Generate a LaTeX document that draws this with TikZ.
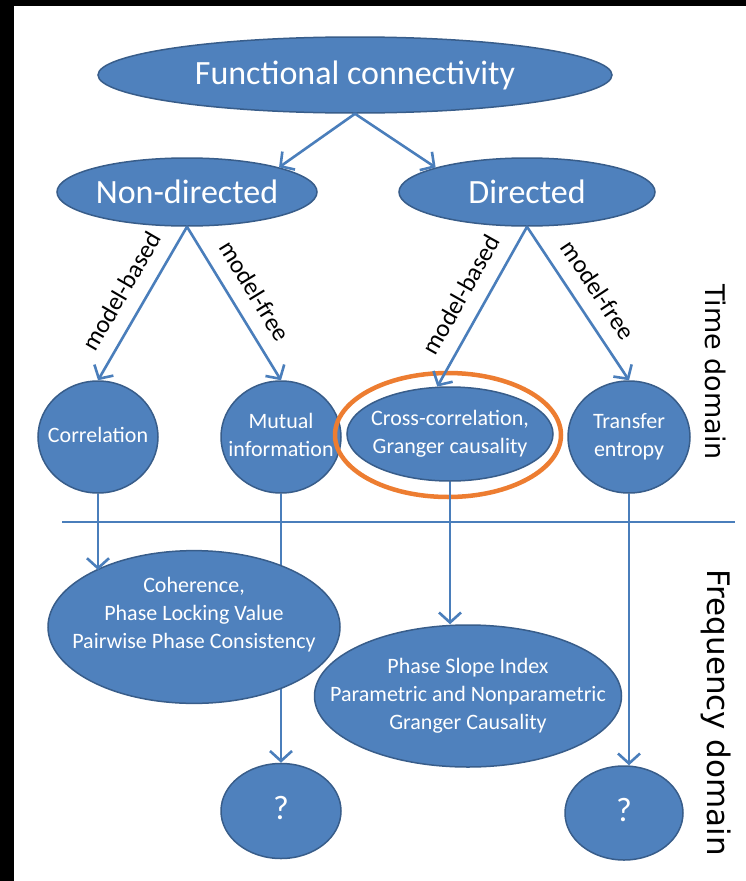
\documentclass[tikz,border=0pt]{standalone}
\usepackage{fontspec}
\setmainfont{Carlito}
\newfontfamily\domfont{DejaVu Sans}
\usetikzlibrary{arrows.meta,shapes.geometric,backgrounds}
\definecolor{nodefill}{RGB}{79,129,189}
\definecolor{nodeedge}{RGB}{56,93,138}
\definecolor{linkblue}{RGB}{74,126,187}
\definecolor{ringorange}{RGB}{237,125,49}
\newcommand{\ctext}[1]{\makebox[0pt]{\begin{tabular}{@{}c@{}}#1\end{tabular}}}
\tikzset{
	blob/.style={ellipse,draw=nodeedge,fill=nodefill,line width=1.5pt,text=white,inner sep=0pt},
	bigblob/.style={blob,font=\fontsize{34}{40}\selectfont},
	smallblob/.style={blob,font=\fontsize{22}{28}\selectfont},
	askblob/.style={blob,font=\fontsize{34}{40}\selectfont},
	link/.style={draw=linkblue,line width=2.6pt,-{Straight Barb[length=10pt,width=22pt]}},
	method/.style={font=\fontsize{25}{30}\selectfont,midway,sloped,above=11pt},
	domlabel/.style={font=\domfont\fontsize{27}{32}\selectfont,rotate=-90},
	highlight/.style={ellipse,draw=ringorange,line width=4.5pt}
}

\begin{document}
\begin{tikzpicture}[x=1pt,y=-1pt]
	\useasboundingbox (0,0) rectangle (746,881);
	\begin{pgfonlayer}{background}
		\fill[black] (0,0) rectangle (746,881);
		\fill[white] (14,6) rectangle (746,881);
	\end{pgfonlayer}
	% time domain
	\node[bigblob,minimum width=514,minimum height=76] (fc) at (355,75) {Functional connectivity};
	\node[bigblob,minimum width=260,minimum height=68] (nondir) at (187,192) {Non-directed};
	\node[bigblob,minimum width=256,minimum height=68] (dir) at (527,192) {Directed};
	\node[smallblob,minimum width=120,minimum height=112] (corr) at (98,437) {\ctext{Correlation}};
	\node[smallblob,minimum width=120,minimum height=112] (mut) at (281,437) {\ctext{Mutual\\information}};
	\node[smallblob,minimum width=206,minimum height=94] (xcorr) at (450,434) {\ctext{Cross-correlation,\\Granger causality}};
	\node[smallblob,minimum width=122,minimum height=112] (te) at (629,437) {\ctext{Transfer\\entropy}};
	\node[highlight,minimum width=226,minimum height=124] (ring) at (448,435) {};
	% frequency domain
	\node[smallblob,minimum width=292,minimum height=145] (coh) at (194,627) {\ctext{Coherence,\\Phase Locking Value\\Pairwise Phase Consistency\\[24pt]}};
	\node[smallblob,minimum width=307,minimum height=142] (psi) at (468,696) {\ctext{Phase Slope Index\\Parametric and Nonparametric\\Granger Causality}};
	\node[askblob,minimum width=120,minimum height=95] (q1) at (281,811) {\ctext{?}};
	\node[askblob,minimum width=118,minimum height=94] (q2) at (624,813) {\ctext{?}};
	\node[domlabel] (tdom) at (716,372) {Time domain};
	\node[domlabel,font=\domfont\fontsize{31}{36}\selectfont] (fdom) at (716,713) {Frequency domain};

	\draw[link] (fc.south) -- (nondir.15);
	\draw[link] (fc.south) -- (dir.165);
	\draw[link] (nondir.south) -- (corr.north) node[method] {model-based};
	\draw[link] (nondir.south) -- (mut.north) node[method] {model-free};
	\draw[link] (dir.south) -- (xcorr.105) node[method] {model-based};
	\draw[link] (dir.south) -- (te.north) node[method] {model-free};

	\coordinate (sepl) at (62,522);
	\coordinate (sepr) at (735,522);
	\draw[draw=linkblue,line width=2.2pt] (sepl) -- (sepr);

	\draw[link] (corr.south) -- (corr.south |- coh.150);
	\begin{pgfonlayer}{background}
		\draw[link] (mut.south) -- (q1.north);
	\end{pgfonlayer}
	\draw[link] (xcorr.south) -- (xcorr.south |- psi.north);
	\draw[link] (te.south) -- (te.south |- q2.north);
\end{tikzpicture}
\end{document}
